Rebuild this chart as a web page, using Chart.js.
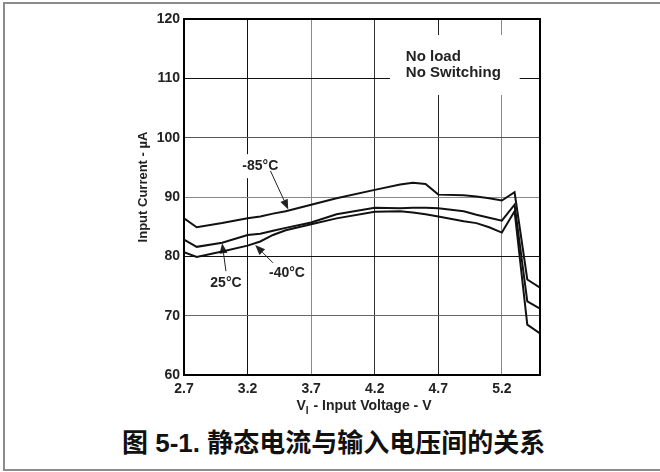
<!DOCTYPE html>
<html>
<head>
<meta charset="utf-8">
<script src="https://cdn.jsdelivr.net/npm/chart.js@4.4.1/dist/chart.umd.min.js"></script>
<style>
  html, body { margin: 0; padding: 0; background: #fff; }
  #wrap { position: relative; width: 660px; height: 472px; overflow: hidden; }
  #frame {
    position: absolute; left: 3px; top: 2px; width: 657px; height: 469px;
    border-left: 2px solid #8c8c8c; border-top: 2px solid #8c8c8c; border-bottom: 2px solid #8c8c8c;
    box-sizing: border-box;
  }
  #mychart { position: absolute; left: 0; top: 0; }
  #caption {
    position: absolute; left: 122px; top: 428px; white-space: nowrap;
    font: bold 26px "Liberation Sans", "Noto Sans CJK SC", sans-serif; line-height: 30px; color: #111;
  }
</style>
</head>
<body>
<div id="wrap">
  <div id="frame"></div>
  <canvas id="mychart" width="660" height="420"></canvas>
  <div id="caption">图 5-1. 静态电流与输入电压间的关系</div>
</div>
<script>
// input voltage (V) where the curves were read
var volts = [2.7, 2.8, 3.0, 3.2, 3.3, 3.4, 3.5, 3.7, 3.9, 4.2, 4.4, 4.5, 4.6, 4.7, 4.9, 5.0, 5.1, 5.2, 5.3, 5.4, 5.5];
// input current (uA) per temperature
var currN85 = [86.4, 84.9, 85.6, 86.4, 86.7, 87.2, 87.6, 88.7, 89.8, 91.2, 92.1, 92.4, 92.2, 90.4, 90.3, 90.1, 89.8, 89.4, 90.8, 76.1, 74.7];
var curr25  = [82.8, 81.6, 82.3, 83.6, 83.8, 84.3, 84.8, 85.7, 87.1, 88.2, 88.1, 88.2, 88.2, 88.1, 87.6, 87.0, 86.5, 86.0, 88.7, 72.4, 71.2];
var currN40 = [80.7, 79.9, 80.8, 81.8, 82.5, 83.6, 84.4, 85.4, 86.4, 87.5, 87.6, 87.4, 87.1, 86.7, 85.9, 85.6, 84.9, 84.0, 87.6, 68.5, 67.0];

var seriesNames = ['-85°C', '25°C', '-40°C'];
var xTicks = [2.7, 3.2, 3.7, 4.2, 4.7, 5.2];
var yTicks = [60, 70, 80, 90, 100, 110, 120];

var xGridColors = ['#000', '#111', '#888', '#333', '#222', '#888'];
var yGridColors = ['#000', '#666', '#111', '#888', '#555', '#111', '#000'];

function pts(ys) {
  return volts.map(function (v, i) { return { x: v, y: ys[i] }; });
}

// labels, arrows and the note, placed in data units
var tempLabels = [
  { text: '-85°C', x: 3.30, y: 95.2 },
  { text: '25°C',  x: 3.03, y: 75.5 },
  { text: '-40°C', x: 3.51, y: 77.2 }
];
var arrows = [
  { x0: 3.38, y0: 94.4, x1: 3.52, y1: 87.9 },
  { x0: 3.03, y0: 77.5, x1: 3.00, y1: 82.2 },
  { x0: 3.40, y0: 78.9, x1: 3.26, y1: 81.9 }
];
var noteLines = ['No load', 'No Switching'];

var labelFont = 'bold 14px "Liberation Sans", Arial, sans-serif';

var decor = {
  id: 'decor',
  beforeDatasetsDraw: function (chart) {
    var ctx = chart.ctx, x = chart.scales.x, y = chart.scales.y;
    ctx.save();
    // note box
    ctx.fillStyle = '#fff';
    ctx.fillRect(x.getPixelForValue(4.32), y.getPixelForValue(117.3),
      x.getPixelForValue(5.34) - x.getPixelForValue(4.32), y.getPixelForValue(107.2) - y.getPixelForValue(117.3));
    ctx.font = 'bold 15px "Liberation Sans", Arial, sans-serif';
    ctx.fillStyle = '#222';
    ctx.textBaseline = 'middle';
    ctx.textAlign = 'left';
    ctx.fillText(noteLines[0], x.getPixelForValue(4.445), y.getPixelForValue(113.6));
    ctx.fillText(noteLines[1], x.getPixelForValue(4.445), y.getPixelForValue(110.9));

    // temperature labels
    ctx.font = labelFont;
    ctx.textAlign = 'center';
    tempLabels.forEach(function (l) {
      var px = x.getPixelForValue(l.x), py = y.getPixelForValue(l.y);
      var w = ctx.measureText(l.text).width;
      ctx.fillStyle = '#fff';
      ctx.fillRect(px - w / 2 - 4, py - 12, w + 8, 24);
      ctx.fillStyle = '#222';
      ctx.fillText(l.text, px, py);
    });

    // arrows
    ctx.strokeStyle = '#222';
    ctx.fillStyle = '#222';
    ctx.lineWidth = 1;
    arrows.forEach(function (a) {
      var ax = x.getPixelForValue(a.x0), ay = y.getPixelForValue(a.y0);
      var bx = x.getPixelForValue(a.x1), by = y.getPixelForValue(a.y1);
      var ang = Math.atan2(by - ay, bx - ax);
      var len = 10, hw = 4;
      var cx = bx - len * Math.cos(ang), cy = by - len * Math.sin(ang);
      ctx.beginPath();
      ctx.moveTo(ax, ay);
      ctx.lineTo(cx, cy);
      ctx.stroke();
      ctx.beginPath();
      ctx.moveTo(bx, by);
      ctx.lineTo(cx + hw * Math.sin(ang), cy - hw * Math.cos(ang));
      ctx.lineTo(cx - hw * Math.sin(ang), cy + hw * Math.cos(ang));
      ctx.closePath();
      ctx.fill();
    });
    ctx.restore();
  },
  afterDraw: function (chart) {
    var ctx = chart.ctx, a = chart.chartArea;
    ctx.save();
    // top and right frame of the plot
    ctx.strokeStyle = '#000';
    ctx.lineWidth = 2;
    ctx.beginPath();
    ctx.moveTo(a.left, a.top);
    ctx.lineTo(a.right, a.top);
    ctx.lineTo(a.right, a.bottom);
    ctx.stroke();

    // y axis title
    ctx.fillStyle = '#222';
    ctx.font = 'bold 13px "Liberation Sans", Arial, sans-serif';
    ctx.textAlign = 'center';
    ctx.textBaseline = 'middle';
    ctx.translate(143, 187);
    ctx.rotate(-Math.PI / 2);
    ctx.fillText('Input Current - µA', 0, 0);
    ctx.setTransform(1, 0, 0, 1, 0, 0);

    // x axis title with subscript
    var big = 'bold 14px "Liberation Sans", Arial, sans-serif';
    var small = 'bold 10px "Liberation Sans", Arial, sans-serif';
    var rest = ' - Input Voltage - V';
    ctx.font = big;
    var wV = ctx.measureText('V').width, wR = ctx.measureText(rest).width;
    ctx.font = small;
    var wI = ctx.measureText('I').width + 1;
    var total = wV + wI + wR;
    var sx = (a.left + a.right) / 2 - total / 2 + 2;
    var base = 410;
    ctx.textAlign = 'left';
    ctx.textBaseline = 'alphabetic';
    ctx.font = big;
    ctx.fillText('V', sx, base);
    ctx.font = small;
    ctx.fillText('I', sx + wV, base + 4);
    ctx.font = big;
    ctx.fillText(rest, sx + wV + wI, base);
    ctx.restore();
  }
};

var ctx = document.getElementById('mychart');
var myChart = new Chart(ctx, {
  type: 'line',
  data: {
    datasets: [
      { label: seriesNames[0], data: pts(currN85) },
      { label: seriesNames[1], data: pts(curr25) },
      { label: seriesNames[2], data: pts(currN40) }
    ]
  },
  options: {
    responsive: false,
    animation: false,
    layout: { padding: { left: 0, right: 120, top: 19, bottom: 0 } },
    elements: {
      line: { borderColor: '#111', borderWidth: 2, tension: 0, fill: false },
      point: { radius: 0 }
    },
    plugins: {
      legend: { display: false },
      title: { display: false },
      tooltip: { enabled: false }
    },
    scales: {
      x: {
        type: 'linear',
        min: 2.7,
        max: 5.5,
        afterBuildTicks: function (s) { s.ticks = xTicks.map(function (v) { return { value: v }; }); },
        afterFit: function (s) { s.height = 45; },
        ticks: {
          autoSkip: false,
          maxRotation: 0,
          padding: 6,
          color: '#222',
          font: { family: '"Liberation Sans", Arial, sans-serif', size: 14, weight: 'bold' },
          callback: function (v) { return Number(v).toFixed(1); }
        },
        grid: {
          drawTicks: false,
          lineWidth: 1,
          color: function (c) { return xGridColors[c.index] || '#555'; }
        },
        border: { color: '#000', width: 2 }
      },
      y: {
        min: 60,
        max: 120,
        afterBuildTicks: function (s) { s.ticks = yTicks.map(function (v) { return { value: v }; }); },
        afterFit: function (s) { s.width = 184; },
        ticks: {
          padding: 4,
          color: '#222',
          font: { family: '"Liberation Sans", Arial, sans-serif', size: 14, weight: 'bold' }
        },
        grid: {
          drawTicks: false,
          lineWidth: 1,
          color: function (c) { return yGridColors[c.index] || '#555'; }
        },
        border: { color: '#000', width: 2 }
      }
    }
  },
  plugins: [decor]
});
</script>
</body>
</html>
